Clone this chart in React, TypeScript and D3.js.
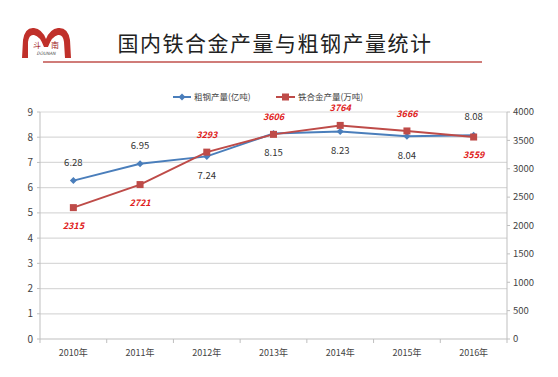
import React from "react";
import * as d3 from "d3";

const years = ["2010年", "2011年", "2012年", "2013年", "2014年", "2015年", "2016年"];
const steel = [6.28, 6.95, 7.24, 8.15, 8.23, 8.04, 8.08];
const ferro = [2315, 2721, 3293, 3606, 3764, 3666, 3559];
const steelLabelAbove = [true, true, false, false, false, false, true];
const ferroLabelAbove = [false, false, true, true, true, true, false];
const leftTicks = [0, 1, 2, 3, 4, 5, 6, 7, 8, 9];
const rightTicks = [0, 500, 1000, 1500, 2000, 2500, 3000, 3500, 4000];

const W = 558, H = 377;
const L = 40, R = 507, T = 112, B = 339;
const BLUE = "#4a7ebb";
const RED = "#be4b48";
const FONT = "'Noto Sans CJK SC', 'Noto Sans', sans-serif";

export default function App() {
  const x = d3.scalePoint<string>().domain(years).range([L, R]).padding(0.5);
  const band = (R - L) / years.length;
  const yL = d3.scaleLinear().domain([0, 9]).range([B, T]);
  const yR = d3.scaleLinear().domain([0, 4000]).range([B, T]);
  const lineS = d3.line<number>().x((_, i) => x(years[i])!).y((d) => yL(d));
  const lineF = d3.line<number>().x((_, i) => x(years[i])!).y((d) => yR(d));

  return (
    <svg width={W} height={H} style={{ position: "absolute", left: 0, top: 0, background: "#fff" }} fontFamily={FONT}>
      {/* Logo */}
      <g>
        <path d="M22,58 L23,40 Q25,27 34,28 Q42,29 46,39 Q50,29 58,28 Q68,27 70,40 L71,58 L65,58 L64,42 Q63,34 58,35 Q52,36 48,47 L44,47 Q40,36 34,35 Q29,34 28,42 L28,58 Z" fill="#c0302a" />
        <text x={37} y={48} fontSize={8} textAnchor="middle" fill="#a02020">斗</text>
        <text x={55} y={48} fontSize={8} textAnchor="middle" fill="#a02020">南</text>
        <text x={46} y={55} fontSize={4.5} textAnchor="middle" fill="#444" fontStyle="italic">DOUNAN</text>
      </g>
      <text x={275} y={51} fontSize={21} textAnchor="middle" fill="#222" letterSpacing={1.5}>国内铁合金产量与粗钢产量统计</text>
      <line x1={43} x2={482} y1={62} y2={62} stroke="#c0504d" strokeWidth={1.5} />

      {/* Gridlines */}
      {leftTicks.slice(1).map((t) => (
        <line key={t} x1={L} x2={R} y1={yL(t)} y2={yL(t)} stroke="#d9d9d9" strokeWidth={1.2} />
      ))}
      {/* Axes */}
      <line x1={L} x2={L} y1={T} y2={B} stroke="#bfbfbf" />
      <line x1={R} x2={R} y1={T} y2={B} stroke="#bfbfbf" />
      <line x1={L} x2={R} y1={B} y2={B} stroke="#bfbfbf" />
      {leftTicks.map((t) => (
        <g key={t}>
          <line x1={L - 3} x2={L} y1={yL(t)} y2={yL(t)} stroke="#bfbfbf" />
          <text x={L - 7} y={yL(t)} dy="0.35em" fontSize={10} textAnchor="end" fill="#444">{t}</text>
        </g>
      ))}
      {rightTicks.map((t) => (
        <g key={t}>
          <line x1={R} x2={R + 3} y1={yR(t)} y2={yR(t)} stroke="#bfbfbf" />
          <text x={R + 6} y={yR(t)} dy="0.35em" fontSize={9.5} textAnchor="start" fill="#444">{t}</text>
        </g>
      ))}
      {years.map((yr, i) => (
        <g key={yr}>
          <line x1={L + band * i} x2={L + band * i} y1={B} y2={B + 4} stroke="#bfbfbf" />
          <text x={x(yr)!} y={B + 17} fontSize={9} textAnchor="middle" fill="#444">{yr}</text>
        </g>
      ))}
      <line x1={R} x2={R} y1={B} y2={B + 4} stroke="#bfbfbf" />

      {/* Lines */}
      <path d={lineS(steel)!} fill="none" stroke={BLUE} strokeWidth={2} />
      <path d={lineF(ferro)!} fill="none" stroke={RED} strokeWidth={2} />
      {steel.map((v, i) => {
        const cx = x(years[i])!, cy = yL(v);
        return <path key={i} d={`M${cx},${cy - 3.5}L${cx + 3.5},${cy}L${cx},${cy + 3.5}L${cx - 3.5},${cy}Z`} fill={BLUE} />;
      })}
      {ferro.map((v, i) => {
        const cx = x(years[i])!, cy = yR(v);
        return <rect key={i} x={cx - 3.5} y={cy - 3.5} width={7} height={7} fill={RED} />;
      })}
      {/* Labels */}
      {steel.map((v, i) => {
        const cx = x(years[i])!, cy = yL(v);
        const ly = steelLabelAbove[i] ? cy - 15 : cy + 23;
        return <text key={i} x={cx} y={ly} fontSize={9.5} textAnchor="middle" fill="#333">{v.toFixed(2)}</text>;
      })}
      {ferro.map((v, i) => {
        const cx = x(years[i])!, cy = yR(v);
        const ly = ferroLabelAbove[i] ? cy - 14 : cy + 21;
        return <text key={i} x={cx} y={ly} fontSize={9} fontWeight="bold" fontStyle="italic" textAnchor="middle" fill="#e02020">{v}</text>;
      })}

      {/* Legend */}
      <line x1={173} x2={191} y1={97} y2={97} stroke={BLUE} strokeWidth={2} />
      <path d="M182,93.5L185.5,97L182,100.5L178.5,97Z" fill={BLUE} />
      <text x={194} y={97} dy="0.35em" fontSize={8.5} fill="#444">粗钢产量(亿吨)</text>
      <line x1={276} x2={295} y1={97} y2={97} stroke={RED} strokeWidth={2} />
      <rect x={282} y={93.5} width={7} height={7} fill={RED} />
      <text x={298} y={97} dy="0.35em" fontSize={8.5} fill="#444">铁合金产量(万吨)</text>
    </svg>
  );
}
